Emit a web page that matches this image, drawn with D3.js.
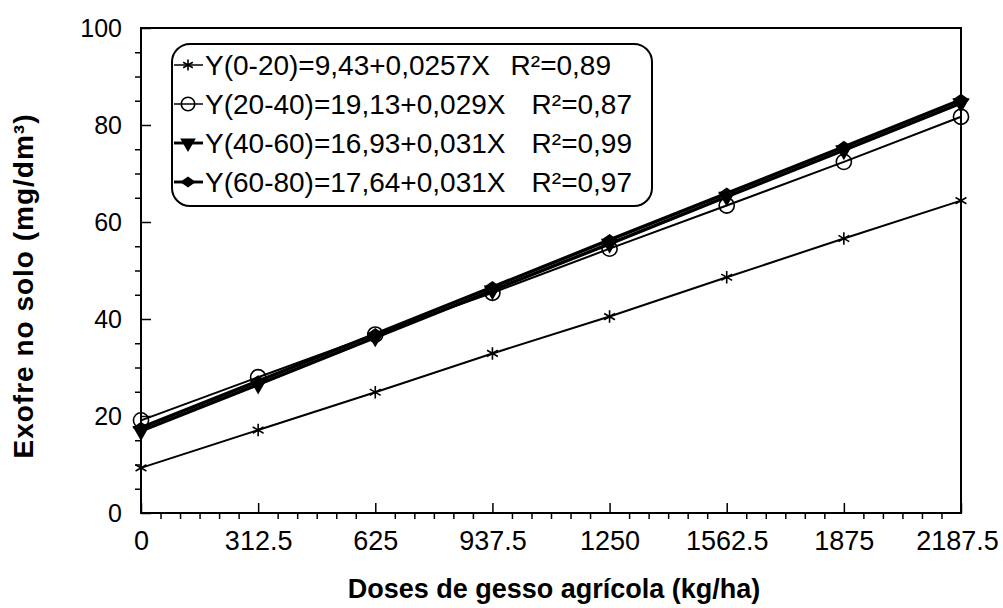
<!DOCTYPE html>
<html>
<head>
<meta charset="utf-8">
<script src="https://cdn.jsdelivr.net/npm/d3@7"></script>
<style>
  html, body { margin: 0; padding: 0; background: #fff; overflow: hidden; }
  svg { display: block; }
  text { font-family: "Liberation Sans", Arial, sans-serif; fill: #000; }
</style>
</head>
<body>
<div id="chart"></div>
<script>
// Doses (x) and soil sulphur readings per depth layer
const doses = [0, 312.5, 625, 937.5, 1250, 1562.5, 1875, 2187.5];
const s0_20 = [9.3, 17.1, 24.9, 32.9, 40.5, 48.6, 56.6, 64.4];
const s20_40 = [19.1, 28.0, 36.8, 45.4, 54.5, 63.4, 72.4, 81.7];
const s40_60 = [16.9, 26.5, 36.2, 45.9, 55.5, 65.2, 74.8, 84.5];
const s60_80 = [17.6, 27.2, 36.9, 46.6, 56.3, 65.9, 75.5, 85.2];

const xTicks = [0, 312.5, 625, 937.5, 1250, 1562.5, 1875, 2187.5];
const yTicks = [0, 20, 40, 60, 80, 100];

const legendEq = [
  "Y(0-20)=9,43+0,0257X",
  "Y(20-40)=19,13+0,029X",
  "Y(40-60)=16,93+0,031X",
  "Y(60-80)=17,64+0,031X"
];
const legendR2 = ["R²=0,89", "R²=0,87", "R²=0,99", "R²=0,97"];

const width = 1003, height = 608;
const margin = { top: 28, right: 42, bottom: 95, left: 141 };
const innerWidth = width - margin.left - margin.right;
const innerHeight = height - margin.top - margin.bottom;

const svg = d3.select("#chart").append("svg")
  .attr("width", width)
  .attr("height", height);

const g = svg.append("g")
  .attr("transform", `translate(${margin.left},${margin.top})`);

const x = d3.scaleLinear().domain([0, 2187.5]).range([0, innerWidth]);
const y = d3.scaleLinear().domain([0, 100]).range([innerHeight, 0]);

// minor ticks (outside)
const xMinor = d3.range(0, 2187.5 + 1, 312.5 / 6).filter((d, i) => i % 6 !== 0);
g.append("g")
  .attr("transform", `translate(0,${innerHeight})`)
  .call(d3.axisBottom(x).tickValues(xMinor).tickSize(6).tickFormat(""))
  .call(a => a.select(".domain").remove())
  .selectAll("line").attr("stroke-width", 1.5);

const yMinor = d3.range(5, 100, 5).filter(d => d % 20 !== 0);
g.append("g")
  .call(d3.axisLeft(y).tickValues(yMinor).tickSize(6).tickFormat(""))
  .call(a => a.select(".domain").remove())
  .selectAll("line").attr("stroke-width", 1.5);

// major ticks (inside) + labels
const xAxis = g.append("g")
  .attr("transform", `translate(0,${innerHeight})`)
  .call(d3.axisBottom(x).tickValues(xTicks).tickSizeInner(-10).tickSizeOuter(0)
    .tickPadding(18).tickFormat(d => String(d)));
xAxis.select(".domain").remove();
xAxis.selectAll("line").attr("stroke-width", 1.5);
xAxis.selectAll("text").style("font-size", "27px").attr("font-family", null);
// last label sits a little left of its tick so it stays on the page
xAxis.selectAll("text").filter(d => d === 2187.5).attr("dx", -4);

const yAxis = g.append("g")
  .call(d3.axisLeft(y).tickValues(yTicks).tickSizeInner(-10).tickSizeOuter(0)
    .tickPadding(19));
yAxis.select(".domain").remove();
yAxis.selectAll("line").attr("stroke-width", 1.5);
yAxis.selectAll("text").style("font-size", "25px").attr("font-family", null);

// plot frame
g.append("rect")
  .attr("x", 0).attr("y", 0)
  .attr("width", innerWidth).attr("height", innerHeight)
  .attr("fill", "none")
  .attr("stroke", "#000")
  .attr("stroke-width", 2);

// custom wide diamond
const wideDiamond = {
  draw(ctx, size) {
    const w = Math.sqrt(size) * 0.85, h = w * 0.7;
    ctx.moveTo(-w, 0); ctx.lineTo(0, -h); ctx.lineTo(w, 0); ctx.lineTo(0, h); ctx.closePath();
  }
};

const series = [
  { values: s0_20, width: 2, symbol: d3.symbolAsterisk, size: 110, fill: "none", rotate: 0 },
  { values: s20_40, width: 2, symbol: d3.symbolCircle, size: 180, fill: "none", rotate: 0 },
  { values: s40_60, width: 3.4, symbol: d3.symbolTriangle, size: 90, fill: "#000", rotate: 180 },
  { values: s60_80, width: 3.4, symbol: wideDiamond, size: 70, fill: "#000", rotate: 0 }
];

const line = d3.line()
  .x((d, i) => x(doses[i]))
  .y(d => y(d));

series.forEach(s => {
  g.append("path")
    .datum(s.values)
    .attr("fill", "none")
    .attr("stroke", "#000")
    .attr("stroke-width", s.width)
    .attr("d", line);

  g.selectAll(null)
    .data(s.values)
    .enter().append("path")
    .attr("transform", (d, i) => `translate(${x(doses[i])},${y(d)}) rotate(${s.rotate})`)
    .attr("d", d3.symbol().type(s.symbol).size(s.size))
    .attr("fill", s.fill)
    .attr("stroke", "#000")
    .attr("stroke-width", 1.6);
});

// axis titles
svg.append("text")
  .attr("x", 554)
  .attr("y", 598)
  .attr("text-anchor", "middle")
  .style("font-size", "27px")
  .style("font-weight", "bold")
  .text("Doses de gesso agrícola (kg/ha)");

svg.append("text")
  .attr("transform", "translate(33,286) rotate(-90)")
  .attr("text-anchor", "middle")
  .style("font-size", "28px")
  .style("font-weight", "bold")
  .style("letter-spacing", "1px")
  .text("Exofre no solo (mg/dm³)");

// legend
const legend = svg.append("g").attr("transform", "translate(172,44)");
legend.append("rect")
  .attr("width", 480).attr("height", 162)
  .attr("rx", 18).attr("ry", 18)
  .attr("fill", "#fff")
  .attr("stroke", "#000")
  .attr("stroke-width", 2);

series.forEach((s, i) => {
  const cy = 21 + i * 39;
  legend.append("line")
    .attr("x1", 2).attr("x2", 31)
    .attr("y1", cy).attr("y2", cy)
    .attr("stroke", "#000")
    .attr("stroke-width", s.width - 0.5);
  legend.append("path")
    .attr("transform", `translate(16,${cy}) rotate(${s.rotate})`)
    .attr("d", d3.symbol().type(s.symbol).size(s.size * 0.8))
    .attr("fill", s.fill)
    .attr("stroke", "#000")
    .attr("stroke-width", 1.6);
  legend.append("text")
    .attr("x", 33).attr("y", cy + 10)
    .style("font-size", "28px")
    .text(legendEq[i]);
  legend.append("text")
    .attr("x", i === 0 ? 439 : 460).attr("y", cy + 10)
    .attr("text-anchor", "end")
    .style("font-size", "28px")
    .text(legendR2[i]);
});
</script>
</body>
</html>
